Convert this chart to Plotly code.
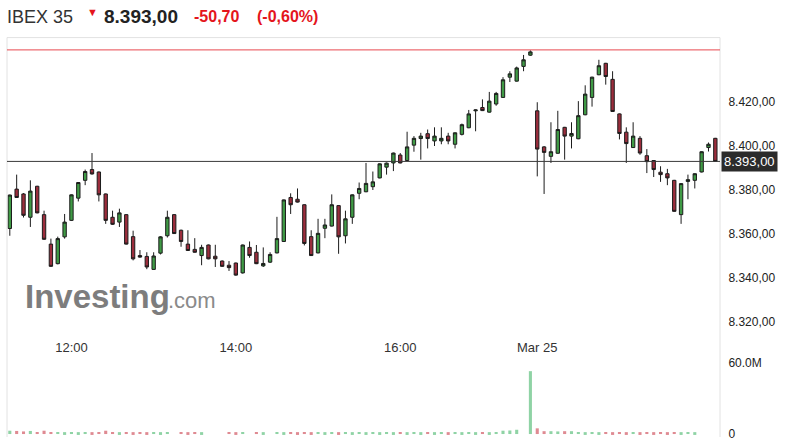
import plotly.graph_objects as go

W, H = 785, 441

# 5-minute candles, 24 Mar ~11:15 through 25 Mar morning
opens = [8362.5, 8380.4, 8378.2, 8367.6, 8381.7, 8368.8, 8355.4, 8346.5, 8358.7, 8366.2,
         8376.3, 8384.4, 8389.3, 8388.2, 8378.2, 8367.6, 8365.4, 8368.8, 8358.8, 8350.2,
         8349.8, 8343.9, 8351.3, 8359.2, 8368.8, 8361.7, 8355.4, 8353.0, 8350.2, 8355.0,
         8349.9, 8347.7, 8345.8, 8346.8, 8342.3, 8353.9, 8351.7, 8345.5, 8347.2, 8351.4,
         8356.6, 8376.6, 8375.8, 8373.3, 8358.8, 8351.4, 8362.6, 8363.6, 8372.9, 8359.2,
         8367.6, 8378.5, 8379.2, 8381.5, 8385.5, 8390.4, 8392.3, 8395.9, 8393.4, 8400.4,
         8403.4, 8405.6, 8402.3, 8402.3, 8404.5, 8400.8, 8405.3, 8408.3, 8416.0, 8417.5,
         8415.4, 8419.1, 8422.1, 8431.3, 8429.5, 8436.2, 8441.3, 8416.0, 8399.6, 8395.3,
         8396.7, 8408.5, 8404.5, 8403.3, 8414.2, 8422.1, 8432.4, 8437.6, 8430.3, 8414.6,
         8406.3, 8399.3, 8403.5, 8395.6, 8393.4, 8388.1, 8387.4, 8384.4, 8368.8, 8383.9,
         8384.4, 8388.2, 8399.3, 8403.5]
highs = [8377.9, 8387.0, 8378.6, 8384.4, 8381.9, 8370.6, 8357.9, 8358.8, 8369.1, 8378.0,
         8383.6, 8389.3, 8396.8, 8388.4, 8378.4, 8370.6, 8371.5, 8369.0, 8361.5, 8352.7,
         8351.7, 8351.7, 8359.0, 8370.6, 8369.0, 8362.0, 8361.7, 8358.1, 8355.1, 8355.2,
         8355.1, 8348.0, 8347.7, 8347.0, 8355.2, 8356.6, 8355.0, 8353.9, 8351.7, 8367.8,
         8375.7, 8378.5, 8380.7, 8373.5, 8361.7, 8366.9, 8366.9, 8378.0, 8373.1, 8370.6,
         8378.0, 8383.4, 8392.3, 8388.4, 8392.1, 8392.5, 8397.0, 8396.8, 8406.5, 8404.5,
         8406.0, 8407.5, 8408.5, 8408.5, 8406.0, 8406.2, 8410.2, 8416.4, 8416.6, 8421.2,
         8424.6, 8424.6, 8431.3, 8434.0, 8436.1, 8441.4, 8443.5, 8419.9, 8400.0, 8410.8,
         8416.0, 8408.7, 8410.8, 8420.4, 8427.6, 8431.5, 8439.2, 8437.8, 8434.0, 8414.8,
         8408.5, 8410.8, 8404.5, 8398.6, 8393.6, 8390.8, 8389.6, 8384.6, 8383.1, 8387.0,
         8387.6, 8397.6, 8401.6, 8403.7]
lows = [8359.2, 8376.4, 8367.5, 8363.2, 8369.4, 8357.3, 8345.0, 8346.2, 8357.9, 8365.9,
        8374.8, 8382.2, 8387.0, 8374.8, 8364.6, 8364.1, 8363.2, 8355.2, 8348.0, 8349.2,
        8344.0, 8343.7, 8350.7, 8358.4, 8360.0, 8354.2, 8352.3, 8351.5, 8345.8, 8348.5,
        8345.0, 8345.0, 8343.2, 8341.0, 8342.0, 8349.2, 8346.3, 8345.0, 8346.8, 8351.2,
        8356.4, 8369.1, 8374.3, 8354.8, 8350.0, 8351.2, 8358.1, 8363.4, 8351.0, 8355.7,
        8364.6, 8375.8, 8379.0, 8380.0, 8385.3, 8387.0, 8388.6, 8392.1, 8393.2, 8397.4,
        8393.8, 8398.9, 8400.0, 8400.8, 8400.8, 8398.9, 8404.8, 8408.1, 8406.7, 8415.9,
        8415.2, 8418.3, 8421.9, 8429.1, 8429.3, 8434.0, 8441.0, 8386.2, 8378.2, 8392.3,
        8396.5, 8393.8, 8398.9, 8403.1, 8414.0, 8417.9, 8432.2, 8427.9, 8415.5, 8403.0,
        8392.3, 8399.1, 8396.0, 8387.7, 8385.9, 8383.7, 8382.2, 8370.1, 8364.6, 8375.8,
        8380.7, 8388.0, 8397.5, 8392.8]
closes = [8377.7, 8376.6, 8368.5, 8379.5, 8369.6, 8357.6, 8345.3, 8357.9, 8365.4, 8377.8,
          8383.4, 8388.4, 8387.3, 8377.8, 8366.2, 8364.4, 8369.6, 8355.4, 8348.7, 8349.5,
          8345.0, 8350.0, 8358.7, 8367.6, 8360.2, 8356.6, 8352.5, 8351.7, 8353.9, 8348.7,
          8348.7, 8345.3, 8344.7, 8341.3, 8355.0, 8350.2, 8346.5, 8346.6, 8350.7, 8357.9,
          8375.5, 8373.3, 8374.5, 8355.7, 8350.2, 8360.3, 8364.1, 8373.3, 8358.7, 8366.9,
          8377.8, 8380.7, 8383.0, 8383.7, 8391.9, 8392.2, 8396.8, 8392.3, 8399.6, 8403.5,
          8404.5, 8403.4, 8404.5, 8403.5, 8402.3, 8406.0, 8409.7, 8414.6, 8416.4, 8416.1,
          8420.4, 8423.9, 8430.1, 8432.8, 8435.5, 8439.2, 8442.8, 8398.6, 8397.1, 8397.4,
          8407.5, 8404.5, 8405.7, 8413.8, 8423.6, 8431.3, 8436.5, 8431.6, 8415.7, 8405.7,
          8401.1, 8404.5, 8396.8, 8392.9, 8389.3, 8387.0, 8385.5, 8370.3, 8382.9, 8384.7,
          8387.4, 8397.4, 8400.8, 8393.0]
# volume in millions
volume_m = [2.8, 2.6, 2.2, 2.6, 1.7, 2.8, 1.7, 1.7, 1.6, 1.7,
            1.6, 1.7, 1.6, 1.7, 2.8, 1.7, 1.6, 1.7, 1.6, 1.7,
            1.6, 1.7, 1.6, 1.7, 0.0, 1.7, 1.6, 1.7, 1.6, 0.0,
            0.0, 0.0, 1.7, 1.6, 1.7, 0.0, 1.7, 1.6, 0.0, 1.7,
            1.6, 1.7, 1.6, 1.7, 1.6, 1.7, 1.6, 1.7, 1.6, 1.7,
            1.6, 1.7, 1.6, 1.7, 1.6, 1.7, 1.6, 1.7, 1.6, 1.7,
            1.6, 1.7, 1.6, 1.7, 1.6, 1.7, 1.6, 1.7, 1.6, 1.7,
            1.6, 1.7, 2.8, 3.0, 3.6, 0.0, 53.0, 4.8, 2.4, 2.4,
            2.2, 2.4, 2.4, 1.7, 1.6, 1.7, 1.6, 1.7, 1.6, 1.7,
            1.6, 1.7, 1.6, 1.7, 1.6, 1.7, 1.6, 1.7, 1.6, 1.7,
            1.6, 0.0, 0.0, 0.0]
idx = list(range(len(closes)))

tick_pos = [9, 33, 57, 77]
tick_text = ['12:00', '14:00', '16:00', 'Mar 25']
price_ticks = [8320, 8340, 8360, 8380, 8400, 8420]

last_price = 8393.00
prev_close = 8443.70

GREEN = '#3f9a45'
RED = '#9b2d3c'
VOL_GREEN = '#8fd3a5'
VOL_RED = '#df8a92'
FONT = 'Arial, Liberation Sans, sans-serif'


def px_x(x):
    return x / W


def px_y(y):
    return 1 - y / H


vol_colors = [VOL_GREEN if c >= o else VOL_RED for o, c in zip(opens, closes)]

candles = go.Candlestick(
    x=idx, open=opens, high=highs, low=lows, close=closes,
    increasing=dict(fillcolor=GREEN, line=dict(color='#1c1c1c', width=1)),
    decreasing=dict(fillcolor=RED, line=dict(color='#1c1c1c', width=1)),
    whiskerwidth=0, showlegend=False, hoverinfo='skip',
    xaxis='x', yaxis='y')

volume = go.Bar(
    x=idx, y=volume_m, marker=dict(color=vol_colors, line=dict(width=0)),
    width=0.45, showlegend=False, hoverinfo='skip',
    xaxis='x2', yaxis='y2')

fig = go.Figure([candles, volume])

x_dom = [px_x(7), px_x(720)]
x_rng = [-0.41, 103.68]

fig.update_layout(
    width=W, height=H,
    margin=dict(l=0, r=0, t=0, b=0),
    paper_bgcolor='white', plot_bgcolor='white',
    separators=',.',
    font=dict(family=FONT, color='#222'),
    xaxis=dict(domain=x_dom, range=x_rng, anchor='y',
               tickvals=tick_pos, ticktext=tick_text,
               tickfont=dict(size=13, color='#333'), ticklabelstandoff=3,
               showgrid=False, zeroline=False, showline=False, ticks='',
               rangeslider=dict(visible=False), fixedrange=True),
    yaxis=dict(domain=[px_y(338), px_y(37)], range=[8314.0, 8449.3], anchor='x',
               side='right', tickvals=price_ticks, tickformat=',.2f',
               tickfont=dict(size=12, color='#222'),
               ticks='outside', ticklen=5, tickcolor='rgba(0,0,0,0)',
               showgrid=False, zeroline=False, showline=False, fixedrange=True),
    xaxis2=dict(domain=x_dom, range=x_rng, anchor='y2', showticklabels=False,
                showgrid=False, zeroline=False, showline=False, ticks=''),
    yaxis2=dict(domain=[0, px_y(360)], range=[-2.5, 65], anchor='x2',
                side='right', tickvals=[0, 60], ticktext=['0', '60.0M'],
                tickfont=dict(size=12, color='#222'), ticklabeloverflow='allow',
                ticks='outside', ticklen=5, tickcolor='rgba(0,0,0,0)',
                showgrid=False, zeroline=False, showline=False),
    bargap=0.5,
)

# frame lines
border = '#e2e2e2'
fig.add_shape(type='line', xref='paper', yref='paper', x0=px_x(7), x1=px_x(720),
              y0=px_y(37), y1=px_y(37), line=dict(color=border, width=1))
fig.add_shape(type='line', xref='paper', yref='paper', x0=px_x(7), x1=px_x(7),
              y0=px_y(37), y1=0, line=dict(color=border, width=1))
fig.add_shape(type='line', xref='paper', yref='paper', x0=px_x(720), x1=px_x(720),
              y0=px_y(37), y1=0, line=dict(color=border, width=1))

# previous close and last price lines
fig.add_shape(type='line', xref='paper', yref='y', x0=px_x(7), x1=px_x(720),
              y0=prev_close, y1=prev_close, line=dict(color='#e8494f', width=1))
fig.add_shape(type='line', xref='paper', yref='y', x0=px_x(7), x1=px_x(720),
              y0=last_price, y1=last_price, line=dict(color='#3a3a3a', width=1))

# last price box on the axis
fig.add_annotation(xref='paper', yref='y', x=px_x(721), y=last_price,
                   xanchor='left', yanchor='middle', showarrow=False,
                   text='8.393,00', font=dict(size=13, color='white'),
                   bgcolor='#2b2b2b', borderpad=2)

# header
head_y = px_y(16)
fig.add_annotation(xref='paper', yref='paper', x=px_x(5), y=head_y, xanchor='left',
                   yanchor='middle', showarrow=False, text='IBEX 35',
                   font=dict(size=18, color='#333'))
fig.add_annotation(xref='paper', yref='paper', x=px_x(92), y=px_y(11), xanchor='center',
                   yanchor='middle', showarrow=False, text='▼',
                   font=dict(size=11, color='#e4151c'))
fig.add_annotation(xref='paper', yref='paper', x=px_x(102), y=head_y, xanchor='left',
                   yanchor='middle', showarrow=False, text='<b>8.393,00</b>',
                   font=dict(size=19, color='#222'))
fig.add_annotation(xref='paper', yref='paper', x=px_x(192), y=head_y, xanchor='left',
                   yanchor='middle', showarrow=False, text='<b>-50,70</b>',
                   font=dict(size=16, color='#e4151c'))
fig.add_annotation(xref='paper', yref='paper', x=px_x(255), y=head_y, xanchor='left',
                   yanchor='middle', showarrow=False, text='<b>(-0,60%)</b>',
                   font=dict(size=16, color='#e4151c'))

# watermark
fig.add_annotation(xref='paper', yref='paper', x=px_x(23), y=px_y(299), xanchor='left',
                   yanchor='middle', showarrow=False, text='<b>Investing</b>',
                   font=dict(size=33, color='#7d7d7d'))
fig.add_annotation(xref='paper', yref='paper', x=px_x(166), y=px_y(303), xanchor='left',
                   yanchor='middle', showarrow=False, text='.com',
                   font=dict(size=22, color='#8a8a8a'))

# page has a default body margin; drop it so the chart sits at 0,0
fig.write_html("out.html", config={'displayModeBar': False},
               post_script="document.body.style.margin='0px';")
